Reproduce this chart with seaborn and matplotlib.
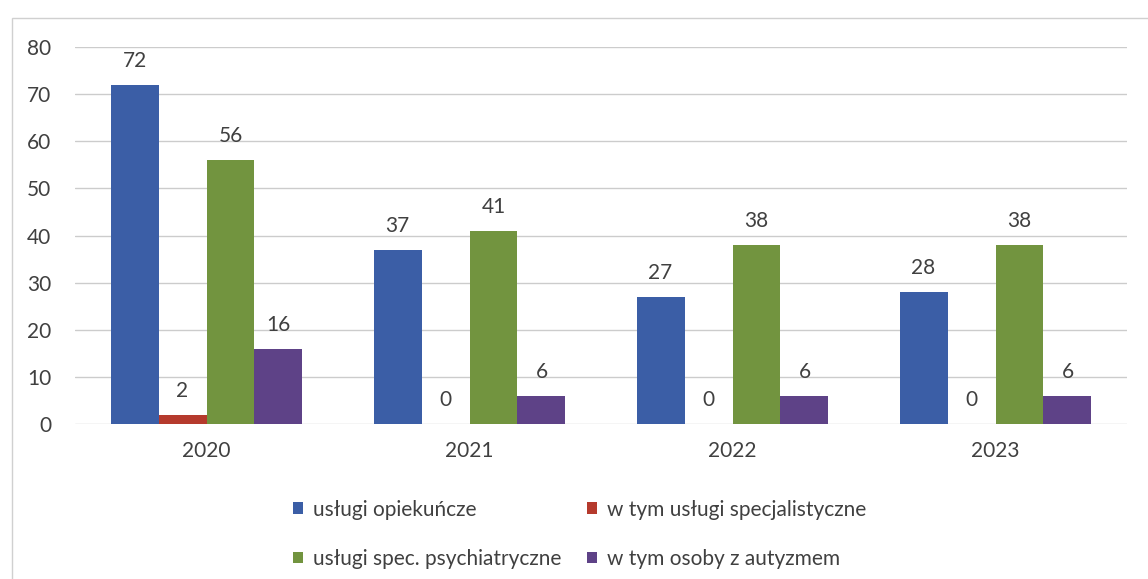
import numpy as np
import pandas as pd
import seaborn as sns
import matplotlib.pyplot as plt
from matplotlib.patches import Rectangle

years = ["2020", "2021", "2022", "2023"]
series = ["usługi opiekuńcze", "w tym usługi specjalistyczne",
          "usługi spec. psychiatryczne", "w tym osoby z autyzmem"]
opiekuncze = [72, 37, 27, 28]
specjalistyczne = [2, 0, 0, 0]
psychiatryczne = [56, 41, 38, 38]
autyzm = [16, 6, 6, 6]
colors = ["#3b5ea6", "#b53a2d", "#72943f", "#5e4287"]

df = pd.DataFrame({
    "rok": years * 4,
    "seria": np.repeat(series, 4),
    "wartosc": opiekuncze + specjalistyczne + psychiatryczne + autyzm,
})

sns.set_theme(style="white")
plt.rcParams["font.family"] = ["Lato", "DejaVu Sans"]
txt = "#404040"

fig = plt.figure(figsize=(11.48, 5.79), dpi=100)
ax = fig.add_axes([75 / 1148, 1 - 424 / 579, 1052 / 1148, 377 / 579])

sns.barplot(data=df, x="rok", y="wartosc", hue="seria", hue_order=series,
            palette=colors, width=0.73, ax=ax, saturation=1, linewidth=0)

for c in ax.containers:
    ax.bar_label(c, fmt="%d", padding=10, fontsize=15, color=txt)

ax.set_ylim(0, 80)
ax.set_yticks(range(0, 81, 10))
ax.yaxis.grid(True, color="#cccccc", linewidth=1)
ax.set_axisbelow(True)
for s in ax.spines.values():
    s.set_visible(False)
ax.set_xlabel("")
ax.set_ylabel("")
ax.tick_params(axis="both", length=0, labelsize=15, colors=txt)
ax.tick_params(axis="y", pad=17)
ax.tick_params(axis="x", pad=12)

# kolejnosc wierszami jak w oryginale
h, l = ax.get_legend_handles_labels()
order = [0, 2, 1, 3]
ax.get_legend().remove()
fig.legend([h[i] for i in order], [l[i] for i in order],
           loc="upper left", bbox_to_anchor=(274 / 1148, 1 - 481 / 579),
           ncol=2, frameon=False, fontsize=15, labelcolor=txt,
           handlelength=0.5, handleheight=0.5, handletextpad=0.45,
           columnspacing=1.25, labelspacing=1.4)

fig.patches.append(Rectangle((12 / 1148, -0.1), 1.2, 1 - 18 / 579 + 0.1,
                             transform=fig.transFigure, fill=False,
                             edgecolor="#d0d0d0", linewidth=1))

fig.savefig("out.png", dpi=100)
